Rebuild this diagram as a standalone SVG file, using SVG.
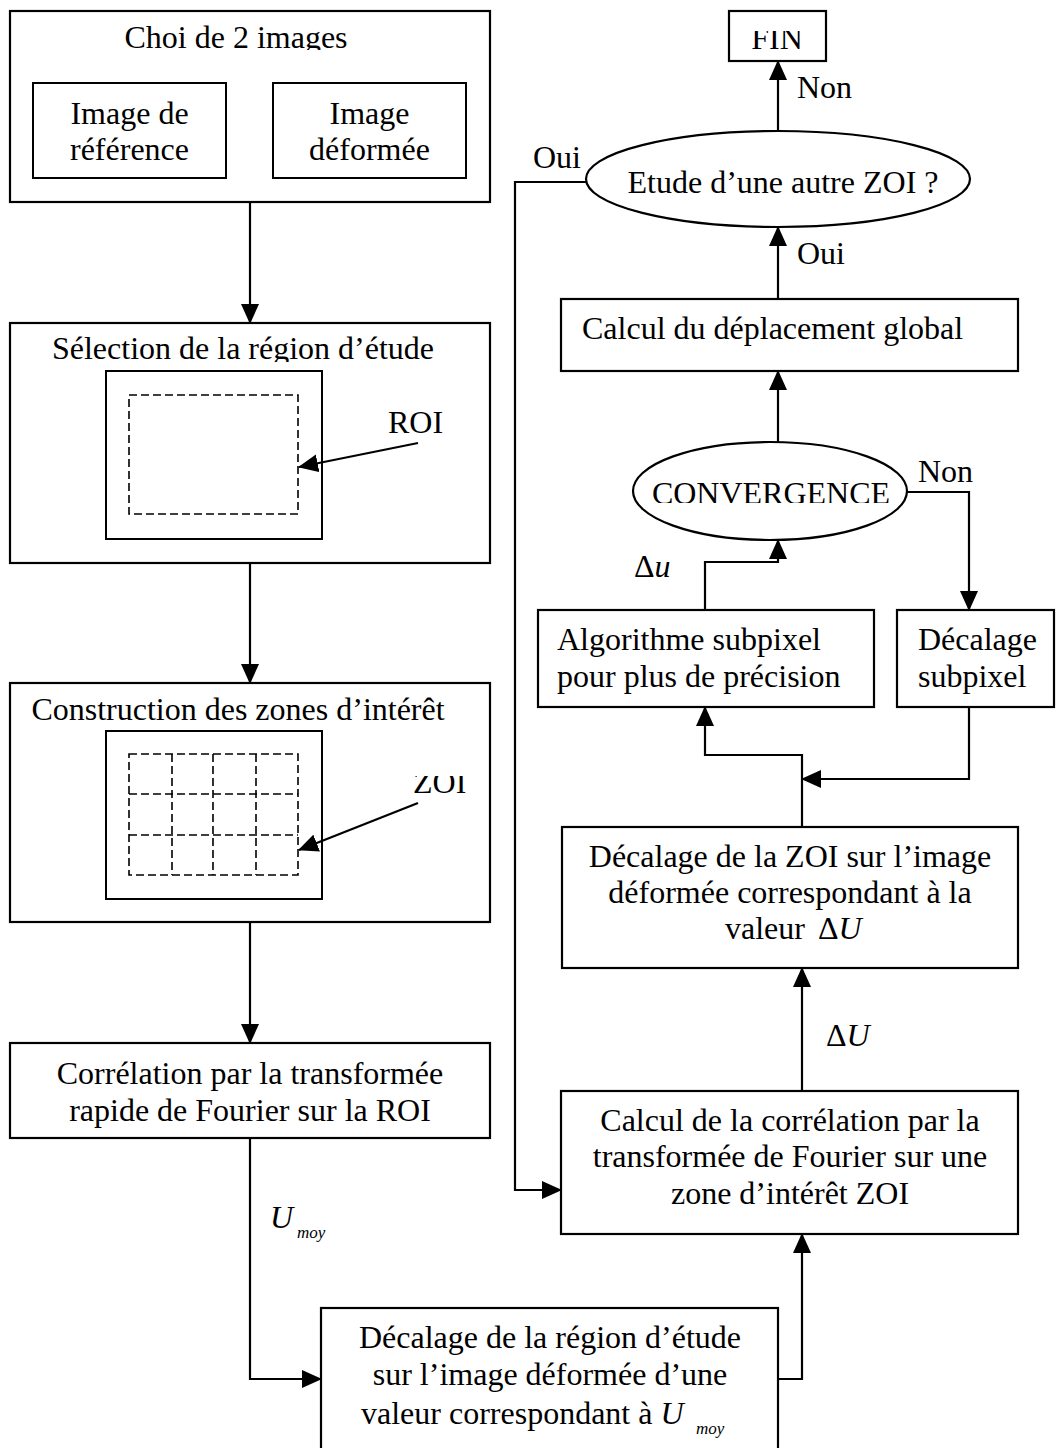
<svg xmlns="http://www.w3.org/2000/svg" width="1062" height="1448" viewBox="0 0 1062 1448">
<style>
text{font-family:"Liberation Serif","Times New Roman",serif;font-size:32px;fill:#000}
.c{text-anchor:middle}
.i{font-style:italic}
.sub{font-style:italic;font-size:17px}
.box{fill:#fff;stroke:#000;stroke-width:2.2}
.in{fill:none;stroke:#000;stroke-width:2}
.dash{fill:none;stroke:#000;stroke-width:1.6;stroke-dasharray:8 4}
.conn path,.conn line{fill:none;stroke:#000;stroke-width:2.2;marker-end:url(#ah)}
</style>
<defs>
<marker id="ah" viewBox="0 0 20 18" refX="19" refY="9" markerWidth="20" markerHeight="18" markerUnits="userSpaceOnUse" orient="auto"><path d="M0,0 L20,9 L0,18 z" fill="#000"/></marker>
<clipPath id="clipChoi"><rect x="0" y="0" width="500" height="50"/></clipPath>
<clipPath id="clipSel"><rect x="0" y="320" width="500" height="42"/></clipPath>
<clipPath id="clipFin"><rect x="720" y="31" width="120" height="40"/></clipPath>
<clipPath id="clipConv"><rect x="600" y="440" width="320" height="63"/></clipPath>
<clipPath id="clipZoi"><rect x="400" y="776" width="90" height="40"/></clipPath>
</defs>
<rect width="1062" height="1448" fill="#fff"/>

<g id="choix-images">
<rect class="box" x="10" y="11" width="480" height="191"/>
<text class="c" x="236" y="48" clip-path="url(#clipChoi)">Choi de 2 images</text>
<rect class="in" x="33" y="83" width="193" height="95"/>
<text class="c" x="129.5" y="124">Image de</text>
<text class="c" x="129.5" y="160">référence</text>
<rect class="in" x="273" y="83" width="193" height="95"/>
<text class="c" x="369.5" y="124">Image</text>
<text class="c" x="369.5" y="160">déformée</text>
</g>

<g id="selection-region">
<rect class="box" x="10" y="323" width="480" height="240"/>
<text class="c" x="243" y="359" clip-path="url(#clipSel)">Sélection de la région d’étude</text>
<rect class="in" x="106" y="371" width="216" height="168"/>
<rect class="dash" x="129" y="395" width="169" height="119"/>
<text x="388" y="433">ROI</text>
</g>

<g id="construction-zones">
<rect class="box" x="10" y="683" width="480" height="239"/>
<text class="c" x="238" y="720">Construction des zones d’intérêt</text>
<rect class="in" x="106" y="731" width="216" height="168"/>
<rect class="dash" x="129" y="754" width="169" height="121"/>
<path class="dash" d="M172,754 V875 M213,754 V875 M256,754 V875 M129,794 H298 M129,835 H298"/>
<text x="413" y="793" clip-path="url(#clipZoi)">ZOI</text>
</g>

<g id="correlation-roi">
<rect class="box" x="10" y="1043" width="480" height="95"/>
<text class="c" x="250" y="1084">Corrélation par la transformée</text>
<text class="c" x="250" y="1121">rapide de Fourier sur la ROI</text>
</g>

<g id="decalage-region">
<rect class="box" x="321" y="1308" width="457" height="160"/>
<text class="c" x="550" y="1348">Décalage de la région d’étude</text>
<text class="c" x="550" y="1385">sur l’image déformée d’une</text>
<text x="361" y="1424">valeur correspondant à <tspan class="i">U</tspan></text>
<text class="sub" x="696" y="1434">moy</text>
</g>

<g id="calcul-correlation">
<rect class="box" x="561" y="1091" width="457" height="143"/>
<text class="c" x="790" y="1131">Calcul de la corrélation par la</text>
<text class="c" x="790" y="1167">transformée de Fourier sur une</text>
<text class="c" x="790" y="1204">zone d’intérêt ZOI</text>
</g>

<g id="decalage-zoi">
<rect class="box" x="562" y="827" width="456" height="141"/>
<text class="c" x="790" y="867">Décalage de la ZOI sur l’image</text>
<text class="c" x="790" y="903">déformée correspondant à la</text>
<text x="725" y="939">valeur</text>
<text x="818" y="939">Δ<tspan class="i">U</tspan></text>
</g>

<g id="algo-subpixel">
<rect class="box" x="538" y="610" width="336" height="97"/>
<text x="557" y="650">Algorithme subpixel</text>
<text x="557" y="687">pour plus de précision</text>
</g>

<g id="decalage-subpixel">
<rect class="box" x="897" y="610" width="157" height="97"/>
<text x="918" y="650">Décalage</text>
<text x="918" y="687">subpixel</text>
</g>

<g id="convergence">
<ellipse class="box" cx="770" cy="491" rx="137" ry="49"/>
<text class="c" x="771" y="504" clip-path="url(#clipConv)">CONVERGENCE</text>
</g>

<g id="deplacement-global">
<rect class="box" x="561" y="299" width="457" height="72"/>
<text x="582" y="339">Calcul du déplacement global</text>
</g>

<g id="autre-zoi">
<ellipse class="box" cx="778" cy="179" rx="192" ry="48"/>
<text class="c" x="783" y="193">Etude d’une autre ZOI ?</text>
</g>

<g id="fin">
<rect class="box" x="729" y="11" width="97" height="50"/>
<text class="c" x="777" y="49" clip-path="url(#clipFin)">FIN</text>
</g>

<g id="connectors" class="conn">
<line x1="250" y1="202" x2="250" y2="323"/>
<line x1="250" y1="563" x2="250" y2="683"/>
<line x1="250" y1="922" x2="250" y2="1043"/>
<path d="M250,1138 V1379 H321"/>
<path d="M778,1379 H802 V1234"/>
<line x1="802" y1="1091" x2="802" y2="968"/>
<path d="M802,827 V755 H705 V707"/>
<path d="M969,707 V779 H802"/>
<path d="M705,610 V562 H778 V540"/>
<path d="M907,492 H969 V610"/>
<line x1="778" y1="442" x2="778" y2="371"/>
<line x1="778" y1="299" x2="778" y2="227"/>
<line x1="778" y1="131" x2="778" y2="61"/>
<path d="M586,182 H515 V1190 H561"/>
<line x1="418" y1="443" x2="299" y2="467"/>
<line x1="418" y1="803" x2="299" y2="850"/>
</g>

<g id="labels">
<text x="797" y="98">Non</text>
<text x="533" y="168">Oui</text>
<text x="797" y="264">Oui</text>
<text x="918" y="482">Non</text>
<text x="634" y="577">Δ<tspan class="i">u</tspan></text>
<text x="826" y="1046">Δ<tspan class="i">U</tspan></text>
<text class="i" x="270" y="1228">U</text>
<text class="sub" x="297" y="1238">moy</text>
</g>
</svg>
